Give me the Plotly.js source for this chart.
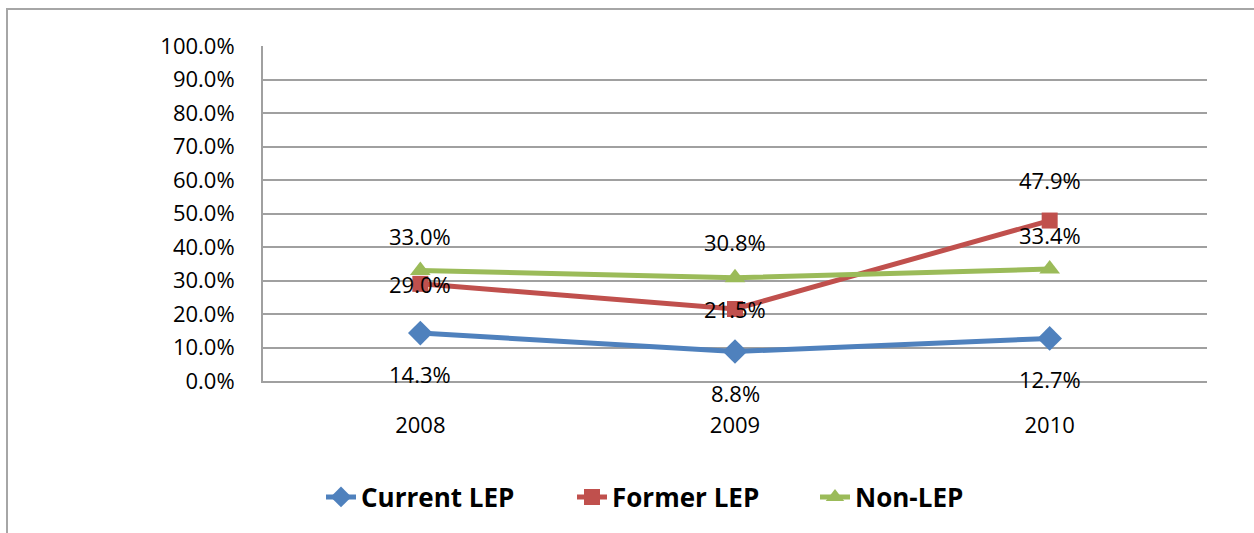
<!DOCTYPE html>
<html>
<head>
<meta charset="utf-8">
<script src="https://cdn.plot.ly/plotly-3.0.1.min.js"></script>
<style>
  html, body { margin: 0; padding: 0; background: #ffffff; overflow: hidden; }
  #chart { width: 1254px; height: 533px; }
</style>
</head>
<body>
<div id="chart"></div>
<script>
// ---- data ----
const years = ['2008', '2009', '2010'];
const currentLEP = [0.143, 0.088, 0.127];
const formerLEP = [0.290, 0.215, 0.479];
const nonLEP = [0.330, 0.308, 0.334];
const seriesNames = ['Current LEP', 'Former LEP', 'Non-LEP'];
const yTickValues = [0, 0.1, 0.2, 0.3, 0.4, 0.5, 0.6, 0.7, 0.8, 0.9, 1.0];

// ---- styles ----
const colors = ['#4F81BD', '#C0504D', '#9BBB59'];
const symbols = ['diamond', 'square', 'triangle-up'];
const markerSizes = [19, 16, 18];
const labelShifts = [
  [-41, -41, -41],  // Current LEP: below
  [0, 0, 41],       // Former LEP
  [34, 36, 34]      // Non-LEP: above
];
const legendIds = ['legend', 'legend2', 'legend3'];
const legendLeft = [321, 572, 815]; // pixel x of each legend item
const FONT = 'Open Sans, Lato, sans-serif';

const allSeries = [currentLEP, formerLEP, nonLEP];

const traces = allSeries.map((vals, i) => ({
  type: 'scatter',
  mode: 'lines+markers',
  name: seriesNames[i],
  legend: legendIds[i],
  x: years,
  y: vals,
  line: { color: colors[i], width: 5 },
  marker: { color: colors[i], symbol: symbols[i], size: markerSizes[i], line: { width: 0 } },
  hoverinfo: 'x+y'
}));

const annotations = [];
allSeries.forEach((vals, i) => {
  vals.forEach((v, j) => {
    annotations.push({
      x: j, y: v, xref: 'x', yref: 'y',
      text: (v * 100).toFixed(1) + '%',
      showarrow: false,
      xanchor: 'center', yanchor: 'middle',
      yshift: labelShifts[i][j],
      font: { family: FONT, size: 22, color: '#000000' }
    });
  });
});

const L = 263, R = 47, T = 46, B = 152;
const W = 1254, H = 533;
const pw = W - L - R, ph = H - T - B;
const px = v => (v - L) / pw;
const py = v => (H - B - v) / ph;

const layout = {
  width: W, height: H,
  margin: { l: L, r: R, t: T, b: B, pad: 0 },
  paper_bgcolor: '#ffffff',
  plot_bgcolor: '#ffffff',
  showlegend: true,
  xaxis: {
    type: 'category',
    range: [-0.5, 2.5],
    showgrid: false,
    showline: true, linecolor: '#a0a0a0', linewidth: 2,
    ticks: '',
    ticklabelstandoff: 24,
    tickfont: { family: FONT, size: 22, color: '#000000' },
    zeroline: false,
    fixedrange: true
  },
  yaxis: {
    range: [0, 1],
    tickvals: yTickValues,
    tickformat: '.1%',
    showgrid: true, gridcolor: '#a0a0a0', gridwidth: 2,
    showline: true, linecolor: '#a0a0a0', linewidth: 2,
    ticks: '',
    ticklabelstandoff: 22,
    tickfont: { family: FONT, size: 22, color: '#000000' },
    zeroline: false,
    fixedrange: true
  },
  annotations: annotations,
  shapes: [{
    type: 'rect', xref: 'paper', yref: 'paper',
    x0: px(7), x1: px(1270), y0: py(540), y1: py(9),
    line: { color: '#a6a6a6', width: 2 },
    fillcolor: 'rgba(0,0,0,0)',
    layer: 'below'
  }]
};

legendIds.forEach((id, i) => {
  layout[id] = {
    orientation: 'h',
    x: px(legendLeft[i]), xanchor: 'left',
    y: py(497), yanchor: 'middle',
    font: { family: FONT, size: 26, color: '#000000', weight: 'bold' },
    itemwidth: 30,
    bgcolor: 'rgba(0,0,0,0)'
  };
});

Plotly.newPlot('chart', traces, layout, { displayModeBar: false, staticPlot: true });
</script>
</body>
</html>
